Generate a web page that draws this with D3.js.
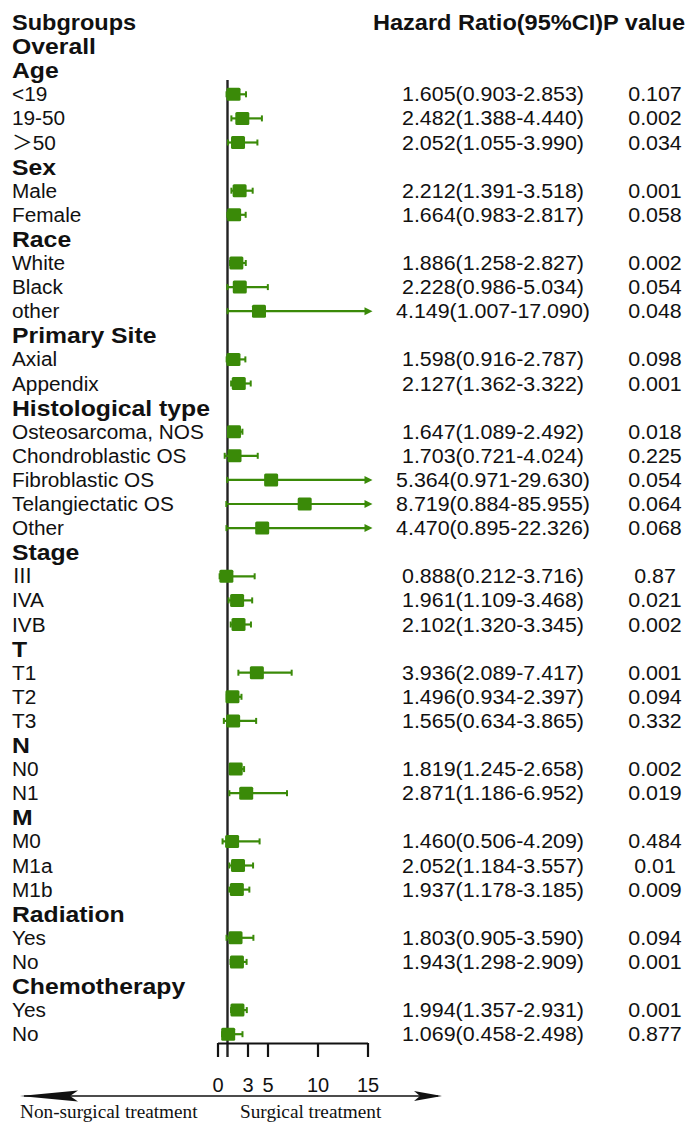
<!DOCTYPE html>
<html>
<head>
<meta charset="utf-8">
<script src="https://cdn.jsdelivr.net/npm/d3@7"></script>
<style>
  html, body { margin: 0; padding: 0; background: #fff; }
  svg { display: block; }
  text { font-family: "Liberation Sans", Arial, "Noto Sans CJK SC", sans-serif; fill: #111; }
</style>
</head>
<body>
<svg id="chart" width="696" height="1122"></svg>
<script>
// Subgroup rows, top to bottom (group headings have no estimate)
const labels = [
  "Overall", "Age", "<19", "19-50", "＞50",
  "Sex", "Male", "Female",
  "Race", "White", "Black", "other",
  "Primary Site", "Axial", "Appendix",
  "Histological type", "Osteosarcoma, NOS", "Chondroblastic OS", "Fibroblastic OS", "Telangiectatic OS", "Other",
  "Stage", "Ⅲ", "IVA", "IVB",
  "T", "T1", "T2", "T3",
  "N", "N0", "N1",
  "M", "M0", "M1a", "M1b",
  "Radiation", "Yes", "No",
  "Chemotherapy", "Yes", "No"
];
const isHeading = [
  1, 1, 0, 0, 0,
  1, 0, 0,
  1, 0, 0, 0,
  1, 0, 0,
  1, 0, 0, 0, 0, 0,
  1, 0, 0, 0,
  1, 0, 0, 0,
  1, 0, 0,
  1, 0, 0, 0,
  1, 0, 0,
  1, 0, 0
];
// Hazard ratios with 95% CI (null for heading rows)
const hr = [
  null, null, 1.605, 2.482, 2.052,
  null, 2.212, 1.664,
  null, 1.886, 2.228, 4.149,
  null, 1.598, 2.127,
  null, 1.647, 1.703, 5.364, 8.719, 4.470,
  null, 0.888, 1.961, 2.102,
  null, 3.936, 1.496, 1.565,
  null, 1.819, 2.871,
  null, 1.460, 2.052, 1.937,
  null, 1.803, 1.943,
  null, 1.994, 1.069
];
const lower = [
  null, null, 0.903, 1.388, 1.055,
  null, 1.391, 0.983,
  null, 1.258, 0.986, 1.007,
  null, 0.916, 1.362,
  null, 1.089, 0.721, 0.971, 0.884, 0.895,
  null, 0.212, 1.109, 1.320,
  null, 2.089, 0.934, 0.634,
  null, 1.245, 1.186,
  null, 0.506, 1.184, 1.178,
  null, 0.905, 1.298,
  null, 1.357, 0.458
];
const upper = [
  null, null, 2.853, 4.440, 3.990,
  null, 3.518, 2.817,
  null, 2.827, 5.034, 17.090,
  null, 2.787, 3.322,
  null, 2.492, 4.024, 29.630, 85.955, 22.326,
  null, 3.716, 3.468, 3.345,
  null, 7.417, 2.397, 3.865,
  null, 2.658, 6.952,
  null, 4.209, 3.557, 3.185,
  null, 3.590, 2.909,
  null, 2.931, 2.498
];
const hrText = [
  "", "", "1.605(0.903-2.853)", "2.482(1.388-4.440)", "2.052(1.055-3.990)",
  "", "2.212(1.391-3.518)", "1.664(0.983-2.817)",
  "", "1.886(1.258-2.827)", "2.228(0.986-5.034)", "4.149(1.007-17.090)",
  "", "1.598(0.916-2.787)", "2.127(1.362-3.322)",
  "", "1.647(1.089-2.492)", "1.703(0.721-4.024)", "5.364(0.971-29.630)", "8.719(0.884-85.955)", "4.470(0.895-22.326)",
  "", "0.888(0.212-3.716)", "1.961(1.109-3.468)", "2.102(1.320-3.345)",
  "", "3.936(2.089-7.417)", "1.496(0.934-2.397)", "1.565(0.634-3.865)",
  "", "1.819(1.245-2.658)", "2.871(1.186-6.952)",
  "", "1.460(0.506-4.209)", "2.052(1.184-3.557)", "1.937(1.178-3.185)",
  "", "1.803(0.905-3.590)", "1.943(1.298-2.909)",
  "", "1.994(1.357-2.931)", "1.069(0.458-2.498)"
];
const pText = [
  "", "", "0.107", "0.002", "0.034",
  "", "0.001", "0.058",
  "", "0.002", "0.054", "0.048",
  "", "0.098", "0.001",
  "", "0.018", "0.225", "0.054", "0.064", "0.068",
  "", "0.87", "0.021", "0.002",
  "", "0.001", "0.094", "0.332",
  "", "0.002", "0.019",
  "", "0.484", "0.01", "0.009",
  "", "0.094", "0.001",
  "", "0.001", "0.877"
];
const xTicks = [0, 3, 5, 10, 15];
const headers = ["Subgroups", "Hazard Ratio(95%CI)P value"];
const directionLabels = ["Non-surgical treatment", "Surgical treatment"];

const svg = d3.select("#chart");
const green = "#3a8a08";
const sx = 1.07; // slight horizontal stretch of the lettering

// Row positions: header row is index 0, data rows follow
const rowIdx = d3.range(labels.length + 1);
const y = d3.scalePoint().domain(rowIdx).range([22, 1034.2]);
const x = d3.scaleLinear().domain([0, 15]).range([217.5, 367.5]);

const rows = labels.map((lab, i) => ({
  label: lab, heading: isHeading[i] === 1, hr: hr[i], lo: lower[i], hi: upper[i],
  hrText: hrText[i], p: pText[i], row: i + 1
}));

function txt(g, str, px, py, opts) {
  const o = Object.assign({ size: 20, weight: "normal", anchor: "start", family: null, scale: sx }, opts || {});
  const t = g.append("text")
    .attr("transform", `translate(${px},${py}) scale(${o.scale},1)`)
    .attr("text-anchor", o.anchor)
    .style("font-size", o.size + "px")
    .style("font-weight", o.weight)
    .text(str);
  if (o.family) t.style("font-family", o.family);
  return t;
}

// Column headers
const head = svg.append("g");
txt(head, headers[0], 12, y(0) + 8, { size: 22, weight: "bold" });
txt(head, headers[1], 373, y(0) + 8, { size: 22, weight: "bold" });

// Left labels and right-hand text columns
const textG = svg.append("g");
rows.forEach(r => {
  const cy = y(r.row);
  if (r.heading) {
    txt(textG, r.label, 12, cy + 8, { size: 22.5, weight: "bold", scale: 1.1 });
  } else {
    txt(textG, r.label, 12, cy + 7, { size: 20, scale: 1.04 });
    txt(textG, r.hrText, 493, cy + 7, { size: 20, anchor: "middle" });
    txt(textG, r.p, 655, cy + 7, { size: 20, anchor: "middle" });
  }
});

// Reference line at HR = 1
svg.append("line")
  .attr("x1", x(1)).attr("x2", x(1))
  .attr("y1", 80).attr("y2", 1057)
  .attr("stroke", "#222").attr("stroke-width", 2.4);

// Confidence intervals and point estimates
const marks = svg.append("g");
const dataRows = rows.filter(r => r.hr !== null);
const xmax = x.domain()[1];

dataRows.forEach(r => {
  const cy = y(r.row);
  const x0 = x(r.lo);
  const clipped = r.hi > xmax;
  const x1 = clipped ? x(xmax) : x(r.hi);
  marks.append("line")
    .attr("x1", x0).attr("x2", x1).attr("y1", cy).attr("y2", cy)
    .attr("stroke", green).attr("stroke-width", 2.2);
  // lower cap
  marks.append("line")
    .attr("x1", x0).attr("x2", x0).attr("y1", cy - 3).attr("y2", cy + 3)
    .attr("stroke", green).attr("stroke-width", 2);
  if (clipped) {
    marks.append("path")
      .attr("d", `M${x1 - 3},${cy - 4} L${x1 + 5},${cy} L${x1 - 3},${cy + 4} Z`)
      .attr("fill", green);
  } else {
    marks.append("line")
      .attr("x1", x1).attr("x2", x1).attr("y1", cy - 3).attr("y2", cy + 3)
      .attr("stroke", green).attr("stroke-width", 2);
  }
  marks.append("rect")
    .attr("x", x(r.hr) - 7).attr("y", cy - 6.5)
    .attr("width", 14).attr("height", 13)
    .attr("rx", 1.5)
    .attr("fill", green);
});

// Horizontal axis
const axisG = svg.append("g")
  .attr("transform", "translate(0,1043)")
  .call(d3.axisBottom(x).tickValues(xTicks).tickSize(14).tickSizeOuter(0).tickPadding(21));
axisG.select(".domain").attr("stroke", "#111").attr("stroke-width", 2.2);
axisG.selectAll(".tick line").attr("stroke", "#111").attr("stroke-width", 2.2);
axisG.selectAll(".tick text")
  .style("font-size", "20px")
  .style("font-family", "'Liberation Sans', Arial, sans-serif")
  .attr("fill", "#111");

// Direction arrow under the axis
const arrowY = 1096;
const dir = svg.append("g");
dir.append("line")
  .attr("x1", 24).attr("x2", 438).attr("y1", arrowY).attr("y2", arrowY)
  .attr("stroke", "#111").attr("stroke-width", 1.6);
dir.append("path")
  .attr("d", `M20,${arrowY} L78,${arrowY - 5.5} L70,${arrowY} L78,${arrowY + 5.5} Z`)
  .attr("fill", "#111");
dir.append("path")
  .attr("d", `M442,${arrowY} L414,${arrowY - 5} L420,${arrowY} L414,${arrowY + 5} Z`)
  .attr("fill", "#111");
txt(dir, directionLabels[0], 20, 1118, { size: 18, family: "'Liberation Serif', 'Times New Roman', serif" });
txt(dir, directionLabels[1], 240, 1118, { size: 18, family: "'Liberation Serif', 'Times New Roman', serif" });
</script>
</body>
</html>
